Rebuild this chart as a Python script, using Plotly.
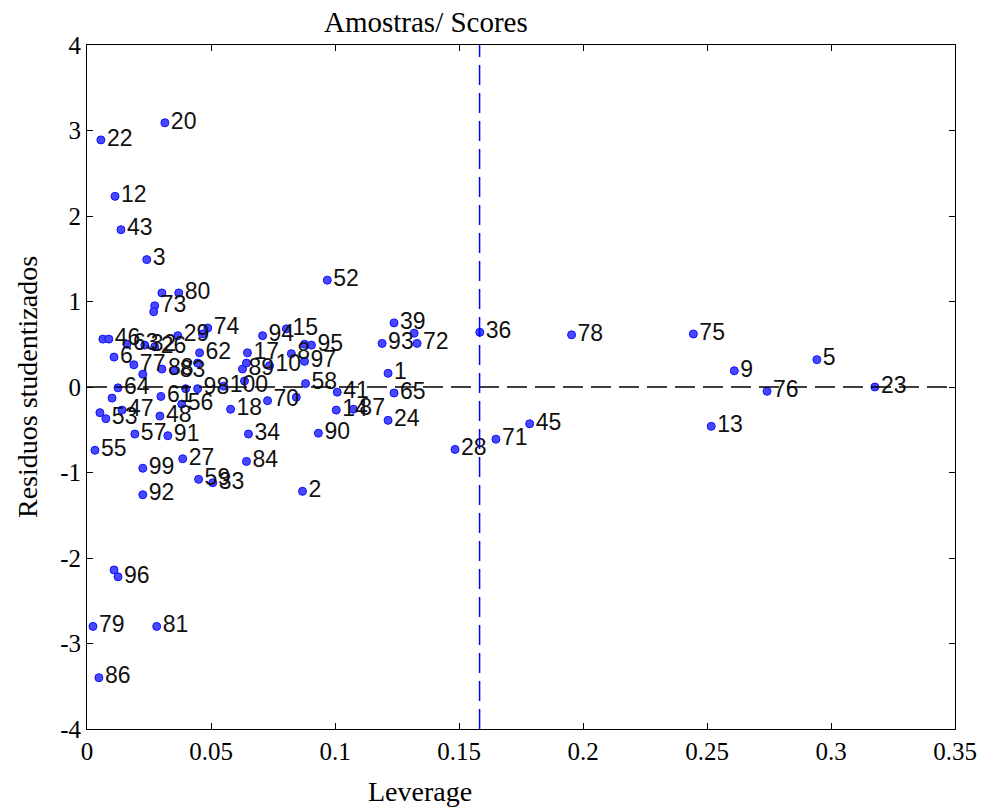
import plotly.graph_objects as go

# Leverage (x), studentized residuals (y), sample labels
labels = ["20", "22", "12", "43", "3", "52", "80", "", "73", "",
          "39", "93", "72", "", "36", "78", "75", "9", "5", "23",
          "76", "13", "45", "71", "28", "2", "1", "65", "24", "41",
          "14", "87", "90", "58", "", "95", "", "15", "94", "17",
          "8", "97", "89", "", "10", "70", "100", "98", "18", "34",
          "84", "59", "33", "27", "99", "92", "91", "57", "55", "53",
          "", "47", "48", "61", "56", "64", "", "96", "", "79",
          "81", "86", "", "46", "63", "32", "26", "29", "62", "74",
          "", "6", "77", "88", "83", "", "", "", ""]
leverage = [0.0314, 0.0056, 0.0113, 0.0137, 0.0241, 0.0969, 0.0370, 0.0302, 0.0273, 0.0269,
            0.1238, 0.1190, 0.1331, 0.1319, 0.1584, 0.1954, 0.2445, 0.2610, 0.2943, 0.3177,
            0.2742, 0.2517, 0.1785, 0.1649, 0.1484, 0.0869, 0.1214, 0.1238, 0.1214, 0.1009,
            0.1005, 0.1074, 0.0933, 0.0881, 0.0844, 0.0905, 0.0877, 0.0804, 0.0708, 0.0647,
            0.0824, 0.0877, 0.0627, 0.0643, 0.0736, 0.0728, 0.0551, 0.0446, 0.0579, 0.0651,
            0.0643, 0.0450, 0.0507, 0.0386, 0.0225, 0.0225, 0.0326, 0.0193, 0.0032, 0.0076,
            0.0052, 0.0141, 0.0294, 0.0298, 0.0382, 0.0125, 0.0101, 0.0125, 0.0109, 0.0024,
            0.0281, 0.0048, 0.0064, 0.0088, 0.0161, 0.0233, 0.0273, 0.0366, 0.0454, 0.0487,
            0.0466, 0.0109, 0.0189, 0.0302, 0.0350, 0.0225, 0.0635, 0.0398, 0.0446]
residuals = [3.09, 2.89, 2.23, 1.84, 1.49, 1.25, 1.10, 1.10, 0.95, 0.88,
             0.75, 0.51, 0.51, 0.63, 0.64, 0.61, 0.62, 0.19, 0.32, 0.00,
             -0.05, -0.46, -0.43, -0.61, -0.73, -1.22, 0.16, -0.07, -0.39, -0.06,
             -0.27, -0.26, -0.54, 0.04, -0.12, 0.49, 0.50, 0.68, 0.60, 0.40,
             0.39, 0.30, 0.21, 0.28, 0.25, -0.16, 0.01, -0.02, -0.26, -0.55,
             -0.87, -1.08, -1.12, -0.84, -0.95, -1.26, -0.57, -0.55, -0.74, -0.37,
             -0.30, -0.27, -0.34, -0.11, -0.20, -0.01, -0.13, -2.22, -2.14, -2.80,
             -2.80, -3.40, 0.56, 0.56, 0.50, 0.49, 0.47, 0.60, 0.40, 0.69,
             0.62, 0.35, 0.26, 0.21, 0.19, 0.15, 0.07, -0.02, 0.28]

leverage_limit = 0.1583
x_ticks = [0, 0.05, 0.1, 0.15, 0.2, 0.25, 0.3, 0.35]
x_ticktext = ["0", "0.05", "0.1", "0.15", "0.2", "0.25", "0.3", "0.35"]
y_ticks = [-4, -3, -2, -1, 0, 1, 2, 3, 4]
y_ticktext = ["-4", "-3", "-2", "-1", "0", "1", "2", "3", "4"]

serif = "Liberation Serif, Times New Roman, serif"
sans = "Liberation Sans, Arial, sans-serif"

fig = go.Figure()
fig.add_trace(go.Scatter(
    x=leverage, y=residuals, mode="markers+text", text=labels,
    textposition="middle right", cliponaxis=False,
    textfont=dict(family=sans, size=23, color="#111111"),
    marker=dict(size=8, color="#4848ff", line=dict(color="#1010ff", width=1)),
    showlegend=False, hoverinfo="skip"))

# reference lines
fig.add_shape(type="line", xref="x", yref="y", x0=0, x1=0.35, y0=0, y1=0,
              line=dict(color="black", width=1.5, dash="20px,8px"))
fig.add_shape(type="line", xref="x", yref="y", x0=leverage_limit, x1=leverage_limit,
              y0=-4, y1=4, line=dict(color="#0000ff", width=1.5, dash="20px,8px"))

axis_common = dict(showline=True, linecolor="black", linewidth=1, mirror="ticks",
                   ticks="inside", ticklen=6, tickcolor="black", showgrid=False,
                   zeroline=False, tickfont=dict(family=serif, size=25, color="black"))
fig.update_xaxes(range=[0, 0.35], tickvals=x_ticks, ticktext=x_ticktext, **axis_common)
fig.update_yaxes(range=[-4, 4], tickvals=y_ticks, ticktext=y_ticktext, **axis_common)

fig.update_layout(
    width=988, height=809,
    margin=dict(l=87, r=33, t=45, b=80),
    paper_bgcolor="white", plot_bgcolor="white",
    annotations=[
        dict(text="Amostras/ Scores", xref="paper", yref="paper", x=0.39, y=1.0,
             yshift=23, xanchor="center", yanchor="middle", showarrow=False,
             font=dict(family=serif, size=29, color="black")),
        dict(text="Leverage", xref="paper", yref="paper", x=0.384, y=0,
             yshift=-62, xanchor="center", yanchor="middle", showarrow=False,
             font=dict(family=serif, size=28, color="black")),
        dict(text="Residuos studentizados", xref="paper", yref="paper", x=0, y=0.5,
             xshift=-60, xanchor="center", yanchor="middle", textangle=-90,
             showarrow=False, font=dict(family=serif, size=28, color="black")),
    ])

fig.write_html("out.html")
